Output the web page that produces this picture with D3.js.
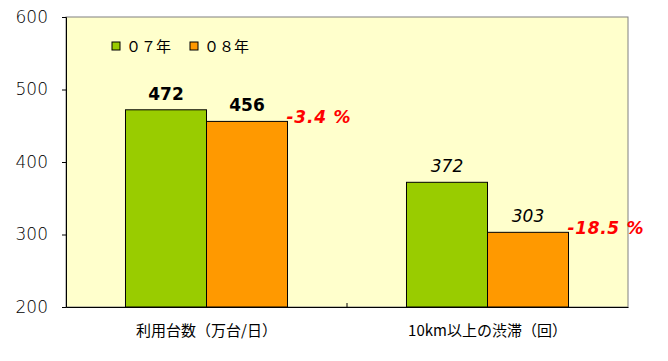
<!DOCTYPE html>
<html><head><meta charset="utf-8">
<script src="https://cdn.jsdelivr.net/npm/d3@7"></script>
<style>body{margin:0;background:#fff}svg{display:block}</style>
</head><body>
<svg id="c" width="668" height="361"></svg>
<script>
const categories = ["利用台数（万台/日）", "10km以上の渋滞（回）"];
const seriesNames = ["０７年", "０８年"];
const values07 = [472, 372];
const values08 = [456, 303];
const changeLabels = ["-3.4 %", "-18.5 %"];
const yTicks = [200, 300, 400, 500, 600];
const colors = ["#99CC00", "#FF9900"];

const svg = d3.select("#c");
const m = {l: 66, r: 628, t: 17, b: 307};
const x = d3.scaleBand().domain(categories).range([m.l, m.r]).paddingInner(0).paddingOuter(0);
const x1 = d3.scaleBand().domain(seriesNames).range([0, x.bandwidth()]).paddingInner(0).paddingOuter(0.7344);
const y = d3.scaleLinear().domain([200, 600]).range([m.b, m.t]);

svg.append("rect").attr("x", m.l).attr("y", m.t).attr("width", m.r - m.l).attr("height", m.b - m.t)
  .attr("fill", "#FFFFCC").attr("stroke", "#808080").attr("stroke-width", 1);

const data = categories.map((c, i) => ({c, i, vals: [values07[i], values08[i]], chg: changeLabels[i]}));

const g = svg.selectAll("g.cat").data(data).join("g").attr("transform", d => `translate(${x(d.c)},0)`);
g.selectAll("rect").data(d => d.vals.map((v, j) => ({v, s: seriesNames[j], j}))).join("rect")
  .attr("x", d => x1(d.s)).attr("y", d => y(d.v)).attr("width", x1.bandwidth()).attr("height", d => y(200) - y(d.v))
  .attr("fill", d => colors[d.j]).attr("stroke", "#000").attr("stroke-width", 1);
g.each(function(d) {
  const grp = d3.select(this);
  grp.selectAll("text.val").data(d.vals.map((v, j) => ({v, s: seriesNames[j], j}))).join("text")
    .attr("class", "val").attr("x", e => x1(e.s) + x1.bandwidth() / 2).attr("y", e => y(e.v) - 10)
    .attr("text-anchor", "middle").attr("font-family", "Verdana, DejaVu Sans, sans-serif")
    .attr("font-size", 17).attr("font-weight", d.i === 0 ? "bold" : "normal")
    .attr("font-style", d.i === 0 ? "normal" : "italic").text(e => e.v);
});
g.append("text").attr("x", x1(seriesNames[1]) + x1.bandwidth() - 1).attr("y", d => y(d.vals[1]) + 2)
  .attr("font-family", "Verdana, DejaVu Sans, sans-serif").attr("font-size", 17).attr("font-weight", "bold")
  .attr("font-style", "italic").attr("fill", "#FF0000").attr("textLength", d => d.i === 0 ? 64 : 76)
  .text(d => d.chg);

// axes
const yAxis = d3.axisLeft(y).tickValues(yTicks).tickSize(4).tickFormat(d3.format("d"));
const ya = svg.append("g").attr("transform", `translate(${m.l},0)`).call(yAxis);
ya.select(".domain").attr("stroke", "#000");
ya.selectAll("text").attr("font-family", "DejaVu Sans, sans-serif").attr("font-size", 17)
  .attr("fill", "#000").attr("x", -18).attr("font-weight", 300);
const xAxis = d3.axisBottom(x).tickSize(0).tickFormat(() => "");
svg.append("g").attr("transform", `translate(0,${m.b})`).call(xAxis).select(".domain").attr("stroke", "#000");
svg.append("line").attr("x1", x(categories[1])).attr("x2", x(categories[1])).attr("y1", m.b).attr("y2", m.b - 4).attr("stroke", "#000");
svg.selectAll("text.cat").data(categories).join("text").attr("class", "cat")
  .attr("x", d => x(d) + x.bandwidth() / 2).attr("y", 336).attr("text-anchor", "middle")
  .attr("font-family", "'Noto Sans CJK JP', sans-serif").attr("font-size", 15).text(d => d);

// legend
const lg = svg.append("g");
const lx = [112, 190];
seriesNames.forEach((s, i) => {
  lg.append("rect").attr("x", lx[i]).attr("y", 42).attr("width", 8).attr("height", 8)
    .attr("fill", colors[i]).attr("stroke", "#000");
  lg.append("text").attr("x", lx[i] + 14).attr("y", 52).attr("font-family", "'Noto Sans CJK JP', sans-serif")
    .attr("font-size", 15).text(s);
});
</script>
</body></html>
